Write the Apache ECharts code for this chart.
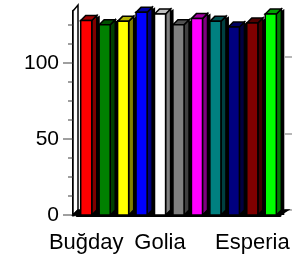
<!DOCTYPE html>
<html>
<head>
<meta charset="utf-8">
<script src="https://cdn.jsdelivr.net/npm/echarts@6/dist/echarts.min.js"></script>
<style>
  html, body { margin: 0; padding: 0; background: #fff; }
  #chart { width: 298px; height: 254px; }
</style>
</head>
<body>
<div id="chart"></div>
<script>
// data
const categories = ['Buğday', '', '', '', 'Golia', '', '', '', '', 'Esperia', ''];
const values = [127.8, 125, 127.2, 133.1, 132, 125, 129, 127.2, 123.5, 126.1, 132];
const faceColors = ['#ff0000', '#008000', '#ffff00', '#0000ff', '#ffffff', '#808080',
                    '#ff00ff', '#008080', '#000080', '#800000', '#00ff00'];
const sideColors = ['#800000', '#004000', '#808000', '#000080', '#808080', '#404040',
                    '#800080', '#004040', '#000040', '#400000', '#008000'];
const topColors = ['#a00000', '#005000', '#b0b000', '#0000a0', '#c0c0c0', '#505050',
                   '#a000a0', '#005050', '#000060', '#500000', '#00a000'];
const yMajorTicks = [0, 50, 100];
const yMinorTicks = [12.5, 25, 37.5, 62.5, 75, 87.5, 112.5, 125];
const yMax = 134;

const chart = echarts.init(document.getElementById('chart'));
const font = 'Liberation Sans, Arial, sans-serif';
const depth = 5;

function labeled(index) {
    return categories[index] !== '';
}

function renderBar(params, api) {
    const i = api.value(0);
    const base = api.coord([i, 0]);
    const top = api.coord([i, api.value(1)]);
    const band = api.size([1, 0])[0];
    const w = band * 0.6;
    const x0 = base[0] - w / 2, x1 = x0 + w;
    const yb = base[1], yt = top[1];
    const line = { stroke: '#000', lineWidth: 1.5 };
    const children = [];
    if (params.dataIndex === 0) {
        // wall behind the value axis and the floor
        const left = base[0] - band / 2 - 4;
        const right = api.coord([categories.length - 1, 0])[0] + band / 2;
        const yTop = api.coord([0, yMax])[1];
        children.push({
            type: 'polygon',
            shape: { points: [[left, yb], [left, yTop], [left + depth, yTop - 6], [left + depth, yb - depth]] },
            style: { fill: '#fff', stroke: '#000', lineWidth: 1.5 }
        });
        children.push({
            type: 'polygon',
            shape: { points: [[left, yb], [right, yb], [right + depth + 3, yb - depth], [left + depth, yb - depth]] },
            style: { fill: '#000', stroke: '#000', lineWidth: 1.5 }
        });
    }
    children.push({
        type: 'polygon',
        shape: { points: [[x1, yt], [x1 + depth + 3, yt - depth], [x1 + depth + 3, yb], [x1, yb]] },
        style: { fill: '#000' }
    });
    children.push({
        type: 'polygon',
        shape: { points: [[x1, yt], [x1 + depth, yt - depth], [x1 + depth, yb - depth], [x1, yb]] },
        style: Object.assign({ fill: sideColors[i] }, line)
    });
    children.push({
        type: 'polygon',
        shape: { points: [[x0, yt], [x0 + depth, yt - depth], [x1 + depth, yt - depth], [x1, yt]] },
        style: Object.assign({ fill: topColors[i] }, line)
    });
    children.push({
        type: 'rect',
        shape: { x: x0, y: yt, width: w, height: yb - yt },
        style: Object.assign({ fill: faceColors[i] }, line)
    });
    return { type: 'group', children: children };
}

const option = {
    animation: false,
    grid: [
        { left: 77, right: 18, top: 11, bottom: 39 },
        { left: 82, right: 13, top: 5, bottom: 44 }
    ],
    xAxis: [
        {
            type: 'category', data: categories, gridIndex: 0, position: 'bottom',
            axisLine: { lineStyle: { color: '#000', width: 3 } },
            axisTick: { alignWithLabel: true, interval: labeled, length: 13,
                        lineStyle: { color: '#808080', width: 2 } },
            axisLabel: { interval: labeled, color: '#000', fontSize: 22, fontFamily: font, margin: 17 }
        },
        {
            type: 'category', data: categories, gridIndex: 0, position: 'bottom',
            axisLine: { show: false },
            axisTick: { alignWithLabel: true, interval: 0, length: 8,
                        lineStyle: { color: '#808080', width: 2 } },
            axisLabel: { show: false }
        },
        {
            type: 'category', data: categories, gridIndex: 1, position: 'top',
            axisLine: { show: false },
            axisTick: { alignWithLabel: true, interval: labeled, inside: true, length: 10,
                        lineStyle: { color: '#a0a0a0', width: 1.5 } },
            axisLabel: { show: false }
        }
    ],
    yAxis: [
        {
            type: 'value', min: 0, max: yMax, gridIndex: 0, position: 'left', offset: 4,
            splitLine: { show: false },
            axisLine: { show: true, lineStyle: { color: '#000', width: 3 } },
            axisTick: { show: true, customValues: yMajorTicks, length: 10,
                        lineStyle: { color: '#808080', width: 1.5 } },
            axisLabel: { customValues: yMajorTicks, color: '#000', fontSize: 21, fontFamily: font, margin: 14 }
        },
        {
            type: 'value', min: 0, max: yMax, gridIndex: 0, position: 'left', offset: 4,
            splitLine: { show: false },
            axisLine: { show: false },
            axisTick: { show: true, customValues: yMinorTicks, length: 5,
                        lineStyle: { color: '#808080', width: 1.5 } },
            axisLabel: { show: false }
        },
        {
            type: 'value', min: 0, max: yMax, gridIndex: 1, position: 'right',
            splitLine: { show: false },
            axisLine: { show: false },
            axisTick: { show: true, customValues: yMajorTicks, length: 7,
                        lineStyle: { color: '#a0a0a0', width: 1.5 } },
            axisLabel: { show: false }
        }
    ],
    series: [{
        type: 'custom',
        xAxisIndex: 0,
        yAxisIndex: 0,
        renderItem: renderBar,
        data: values.map(function (v, i) { return [i, v]; })
    }]
};
chart.setOption(option);
</script>
</body>
</html>
